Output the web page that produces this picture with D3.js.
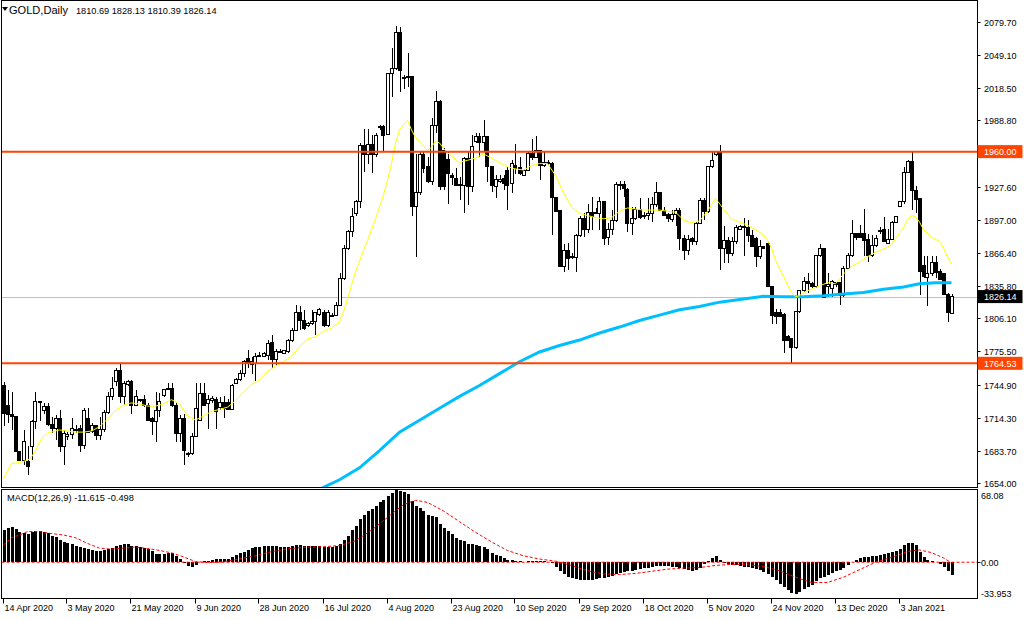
<!DOCTYPE html>
<html><head><meta charset="utf-8">
<script src="https://cdn.jsdelivr.net/npm/d3@7"></script>
<style>
body{margin:0;background:#fff;}
svg{display:block;font-family:"Liberation Sans",Arial,sans-serif;font-size:9px;}
</style></head><body><svg id="c" width="1024" height="620"></svg>
<script>
// ---- Daily OHLC, bar 0 = 14 Apr 2020 ... bar 237 = last bar ----
const open=[1744,1726,1717,1715,1683,1675,1674,1688,1711,1728,1721,1725,1708,1704,1714,1688,1697,1699,1703,1704,1689,1714,1702,1707,1698,1703,1719,1734,1748,1758,1734,1745,1748,1726,1730,1731,1726,1714,1711,1721,1735,1740,1741,1726,1700,1714,1681,1681,1697,1712,1737,1727,1730,1731,1724,1728,1728,1722,1746,1750,1755,1769,1763,1764,1771,1771,1772,1784,1768,1775,1774,1775,1786,1795,1811,1804,1799,1801,1803,1810,1811,1799,1809,1809,1818,1843,1871,1886,1903,1914,1966,1957,1967,1957,1983,1983,1976,2032,2037,2070,2028,2029,2029,1909,1922,1957,1946,1932,1984,2006,1961,1953,1938,1935,1930,1929,1954,1928,1969,1974,1968,1974,1946,1928,1932,1935,1943,1931,1947,1945,1938,1943,1958,1955,1961,1947,1949,1949,1918,1906,1854,1869,1863,1862,1883,1898,1888,1904,1904,1903,1914,1881,1888,1896,1930,1930,1925,1894,1898,1907,1901,1901,1903,1911,1922,1906,1902,1897,1902,1906,1880,1869,1880,1877,1894,1915,1905,1946,1957,1960,1871,1878,1866,1877,1888,1891,1890,1883,1880,1863,1872,1875,1835,1811,1811,1810,1789,1787,1779,1812,1832,1840,1838,1835,1864,1871,1835,1834,1839,1839,1827,1852,1864,1884,1884,1884,1879,1864,1873,1886,1888,1875,1879,1895,1909,1914,1941,1951,1924,1917,1855,1844,1847,1858,1849,1847,1828,1810.69];
const high=[1747,1740,1738,1716,1684,1703,1688,1712,1738,1729,1728,1728,1715,1717,1721,1703,1701,1714,1708,1708,1723,1723,1709,1708,1715,1721,1738,1752,1760,1765,1748,1749,1749,1740,1732,1735,1728,1715,1738,1737,1741,1746,1746,1728,1717,1718,1683,1700,1746,1746,1746,1735,1734,1733,1733,1734,1732,1745,1751,1758,1768,1777,1770,1774,1775,1775,1786,1791,1778,1778,1777,1787,1797,1818,1817,1814,1803,1814,1812,1816,1814,1814,1811,1821,1848,1874,1888,1908,1915,1968,1981,1981,1975,1977,1985,1985,2032,2056,2076,2075,2031,2051,2029,1958,1960,1961,1955,1991,2016,2008,1963,1960,1940,1945,1937,1955,1961,1975,1977,1977,1989,1974,1946,1938,1938,1938,1946,1952,1967,1955,1944,1961,1972,1974,1961,1961,1952,1950,1918,1906,1875,1876,1866,1884,1901,1903,1912,1918,1908,1918,1914,1894,1906,1932,1933,1933,1926,1909,1909,1917,1904,1917,1918,1932,1923,1909,1903,1906,1908,1908,1883,1883,1881,1895,1917,1917,1947,1961,1961,1966,1891,1881,1881,1892,1892,1899,1897,1888,1881,1878,1873,1877,1836,1815,1815,1811,1791,1788,1812,1832,1844,1848,1840,1864,1875,1871,1848,1841,1840,1840,1854,1866,1897,1884,1892,1907,1884,1883,1883,1890,1900,1889,1896,1901,1914,1946,1952,1960,1928,1917,1864,1864,1864,1864,1852,1848,1829,1828.13];
const low=[1707,1709,1703,1683,1674,1671,1661,1675,1704,1711,1718,1707,1700,1694,1683,1671,1694,1695,1700,1683,1685,1701,1700,1694,1694,1701,1718,1731,1744,1728,1726,1744,1718,1725,1729,1724,1711,1698,1692,1715,1733,1740,1724,1692,1692,1671,1678,1680,1697,1711,1725,1704,1728,1704,1721,1714,1721,1721,1745,1748,1752,1760,1755,1748,1770,1770,1768,1760,1762,1774,1773,1774,1784,1795,1795,1795,1798,1800,1791,1808,1798,1798,1808,1808,1817,1841,1869,1881,1901,1908,1941,1949,1940,1955,1980,1961,1975,2010,2035,2015,2018,2020,1901,1863,1920,1940,1931,1929,1977,1925,1925,1912,1929,1928,1915,1903,1911,1923,1968,1955,1960,1932,1923,1917,1931,1925,1906,1922,1939,1938,1938,1943,1952,1954,1934,1946,1948,1883,1905,1854,1849,1851,1861,1849,1881,1881,1885,1888,1902,1888,1874,1874,1883,1895,1925,1918,1886,1883,1897,1898,1898,1897,1895,1909,1905,1901,1895,1895,1891,1869,1860,1865,1874,1874,1894,1897,1903,1945,1956,1851,1857,1857,1864,1875,1888,1864,1877,1872,1853,1861,1870,1835,1801,1801,1808,1774,1785,1764,1778,1811,1830,1829,1834,1834,1863,1825,1826,1826,1835,1818,1826,1852,1863,1878,1881,1864,1858,1863,1872,1884,1877,1875,1878,1894,1909,1912,1940,1906,1903,1828,1843,1817,1845,1843,1841,1828,1803,1810.39];
const close=[1718,1717,1715,1683,1675,1692,1669,1711,1729,1729,1725,1708,1704,1714,1688,1700,1699,1704,1703.5,1689,1721,1701,1707,1698,1703,1719,1734,1741,1758,1734,1746,1748,1726,1734,1731,1726,1712,1711,1721,1729,1740,1741,1726,1700,1714,1684,1680,1697,1723,1737,1726,1731,1732,1720,1728,1723,1722,1744,1750,1755,1766,1764,1766,1771,1772,1774,1783,1768,1775,1775,1776,1786,1795,1811,1804,1797,1801,1803,1811,1814,1799,1811,1809,1818,1843,1871,1886,1900,1914,1966,1957,1967,1957,1975,1983,1975,2032,2037,2070,2035,2028,2028,1909,1922,1957,1944,1932,1984,2006,1928,1928,1940,1936,1929,1930,1954,1928,1965,1974,1968,1974,1946,1929,1934,1934,1931,1929,1949,1944,1940,1943,1958,1955,1961,1947,1950,1950,1918,1905,1854,1869,1861,1863,1883,1898,1888,1904,1900,1904,1914,1880,1888,1896,1930,1930,1926,1894,1898,1907,1899,1900,1903,1911,1922,1906,1901,1898,1902,1906,1880,1869,1879,1877,1894,1915,1905,1946,1952,1960,1871,1878,1866,1877,1890,1891,1890,1883,1872,1863,1872,1871,1835,1809,1808,1808,1786,1786,1779,1812,1832,1840,1838,1835,1864,1871,1825,1837,1840,1837,1827,1852,1864,1884,1881,1881,1878,1864,1873,1880,1887,1877,1879,1895,1900,1914,1941,1951,1924,1916,1849,1845,1847,1858,1848,1842,1828,1811,1826.14];

// Moving averages (bar index / value)
const maFastIdx=[0,2,4,6,7,8,9,10,11,12,14,16,18,20,22,24,26,28,30,32,34,36,38,40,42,44,46,48,50,52,54,56,58,60,62,64,66,68,70,72,74,76,78,80,82,84,85,86,87,88,89,90,91,92,93,94,95,96,97,98,99,100,101,102,103,104,105,106,107,108,109,110,111,112,113,114,116,118,120,122,124,126,128,130,132,134,136,138,140,142,144,146,148,150,152,154,156,158,160,162,164,166,168,170,172,174,176,178,180,182,184,186,188,190,191,192,193,194,195,196,197,198,199,200,202,204,206,208,210,212,214,216,218,220,222,224,225,226,227,228,229,230,232,234,235,236,237];
const maFastVal=[1658,1672,1673,1675,1678,1684,1692,1697,1700,1701,1703,1702,1701,1701,1702,1706,1713,1721,1726,1728,1727,1725,1725,1727,1731,1727,1716,1712,1716,1720,1722,1724,1730,1738,1745,1749,1757,1762,1766,1771,1780,1787,1789,1794,1797,1803,1812,1824,1837,1849,1859,1869,1878,1888,1898,1909,1920,1934,1949,1968,1980,1985,1989,1980,1973,1969,1965,1961,1964,1970,1968,1963,1959,1956,1953,1950,1952,1954,1958,1954,1950,1946,1944,1943,1947,1949,1949,1938,1922,1909,1903,1901,1899,1898,1899,1905,1908,1907,1906,1906,1906,1905,1904,1897,1894,1896,1905,1917,1907,1898,1895,1892,1888,1883,1878,1871,1860,1852,1845,1837,1830,1826,1827,1830,1833,1836,1839,1838,1847,1854,1858,1863,1867,1870,1874,1885,1890,1897,1901,1900,1895,1888,1881,1877,1871,1863,1856];
const maSlowIdx=[76,80,84,89,94,99,104,109,114,119,124,129,134,139,144,149,154,159,164,169,174,179,185,190,195,200,205,210,215,220,225,229,233,237];
const maSlowVal=[1640,1650,1657,1668,1684,1701,1712,1723,1734,1744,1755,1766,1775,1781,1786,1792.5,1798,1804,1809,1814,1817,1821,1824,1826.5,1826,1826,1827,1828.5,1830,1833,1835,1838,1839,1839];

// MACD(12,26,9) histogram (per bar) and signal line (sampled)
const macdMain=[30.2,31.8,32.7,31.2,28.7,27.1,26.5,28,29.3,29.3,28.7,27.1,24.6,23.3,20.8,19.2,17.6,17,15.1,14.5,12.9,12.3,11.3,10.4,10.4,11.3,12.3,12.9,15.4,16.1,16.7,16.7,15.1,14.8,14.5,12.9,12,10.4,7.6,7.6,7.6,9.1,8.2,5.7,2.8,-0.3,-3.8,-4.4,-2.8,0,0.9,0.9,1.9,2.8,2.8,2.8,2.8,5,6.3,8.2,9.8,11.3,12.9,13.9,14.5,15,15.5,15,15,14.5,14.5,14.5,15,16,16,15.5,15,15,15,15,14.5,14.5,14.5,15,17,21,25,30,34,40,44,48,50,53,56,58,62,65,68,67,66,64,57,53,51,48,44,43,42,36,32,29,26,23,21,20,17,17,16,15,14,12,9,7,5.5,4,2.5,2,1.5,1,0.5,1,1.5,1.5,1,1,0.5,-1,-4,-8,-11,-14,-15,-16,-17,-17,-17,-16.5,-16,-15,-15,-14,-13,-11,-10,-9,-8.5,-8,-7,-6,-5.5,-5,-4.5,-3.5,-3.5,-3.5,-3.5,-4,-4,-5,-6.5,-7.5,-8,-7,-5,-2,1.5,4,5.5,2,-1,-2,-2.5,-3,-3.5,-4,-4.5,-5.5,-6.5,-7.5,-9,-11,-14,-17,-20,-23,-26,-29,-30,-28,-25,-23,-21,-18,-15,-14,-12,-10,-8,-7,-5,-3,0,2,3.5,4.5,5,5.5,6,7,7.5,8.5,9.5,10.5,12.5,16,18,18,16,10,5,2,1,0,-1.5,-4.5,-8.5,-11.615];
const signalIdx=[0,2,4,6,9,12,15,18,21,24,27,30,33,36,39,42,45,48,51,54,57,60,63,66,70,75,80,84,88,92,96,100,103,106,110,114,118,122,126,130,134,138,142,146,150,154,158,162,166,170,174,178,182,186,190,194,198,202,206,210,214,218,222,226,229,232,235,237];
const signalVal=[16,23,25.5,28.7,28.7,26.8,25.5,23,17.6,13.2,12.3,13.2,14.2,12.9,11,8.8,5,0.6,-0.3,0,1.6,3.8,6,9,12,14,14.5,15.5,20,30,42,54,58,56,48,38,28,19,11,6,3,1,-3,-8,-11,-11.5,-10.5,-8.5,-6.5,-5.5,-5,-3,-2,-2.5,-4,-8,-14,-19,-19,-14,-7,0,4.5,10,11.5,9,4,-0.498];

const priceTicks=[2079.70,2049.10,2018.50,1988.80,1927.60,1897.00,1866.40,1835.80,1806.10,1775.50,1744.90,1714.30,1683.70,1654.00];
const dateLabels=["14 Apr 2020","3 May 2020","21 May 2020","9 Jun 2020","28 Jun 2020","16 Jul 2020","4 Aug 2020","23 Aug 2020","10 Sep 2020","29 Sep 2020","18 Oct 2020","5 Nov 2020","24 Nov 2020","13 Dec 2020","3 Jan 2021"];
const dateIdx=[0,16,32,48,64,80,96,112,128,144,160,176,192,208,224];
const levels=[{v:1960.00,label:"1960.00"},{v:1764.53,label:"1764.53"}];
const lastPrice=1826.14;
const macdTicks=[{v:68.08,t:"68.08"},{v:0,t:"0.00"},{v:-33.953,t:"-33.953"}];

const svg=d3.select('#c');
const n=close.length;
const x=d3.scaleLinear().domain([0,n-1]).range([3.5,951.5]);
const y=d3.scaleLinear().domain([1654,2079.7]).range([483,22]);
const ym=d3.scaleLinear().domain([-33.953,68.08]).range([598.5,489.5]);
const L=1.5,R=977.5,T=0.5,B=487.5,MT=489.5,MB=598.5;
const ORANGE="#FF4500";

svg.append('rect').attr('width',1024).attr('height',620).attr('fill','#fff');
const defs=svg.append('defs');
defs.append('clipPath').attr('id','cm').append('rect').attr('x',L).attr('y',T).attr('width',R-L).attr('height',B-T);
defs.append('clipPath').attr('id','cd').append('rect').attr('x',L).attr('y',MT).attr('width',R-L).attr('height',MB-MT);

const gm=svg.append('g').attr('clip-path','url(#cm)');
gm.append('line').attr('x1',L).attr('x2',R).attr('y1',Math.round(y(lastPrice))+0.5).attr('y2',Math.round(y(lastPrice))+0.5).attr('stroke','#C0C0C0');

// candles
const idx=d3.range(n);
const cg=gm.append('g').attr('shape-rendering','crispEdges');
cg.selectAll('line.w').data(idx).join('line')
  .attr('x1',i=>Math.round(x(i))).attr('x2',i=>Math.round(x(i)))
  .attr('y1',i=>y(high[i])).attr('y2',i=>y(low[i])).attr('stroke','#000');
cg.selectAll('rect.b').data(idx).join('rect')
  .attr('x',i=>Math.round(x(i))-1.5).attr('width',3)
  .attr('y',i=>y(Math.max(open[i],close[i])))
  .attr('height',i=>Math.max(1,Math.abs(y(open[i])-y(close[i]))))
  .attr('fill',i=>close[i]>=open[i]?'#fff':'#000').attr('stroke','#000').attr('stroke-width',1);

// MAs
const lineG=d3.line().x(d=>x(d[0])).y(d=>y(d[1]));
gm.append('path').attr('d',lineG(maSlowIdx.map((k,j)=>[k,maSlowVal[j]]))).attr('fill','none').attr('stroke','#00BFFF').attr('stroke-width',3);
gm.append('path').attr('d',lineG(maFastIdx.map((k,j)=>[k,maFastVal[j]]))).attr('fill','none').attr('stroke','#FFFF00').attr('stroke-width',1);

// horizontal levels
levels.forEach(l=>{
  gm.append('line').attr('x1',L).attr('x2',R).attr('y1',y(l.v)).attr('y2',y(l.v)).attr('stroke',ORANGE).attr('stroke-width',2);
});

// frames
svg.append('rect').attr('x',L).attr('y',T).attr('width',R-L).attr('height',B-T).attr('fill','none').attr('stroke','#000').attr('shape-rendering','crispEdges');
svg.append('rect').attr('x',L).attr('y',MT).attr('width',R-L).attr('height',MB-MT).attr('fill','none').attr('stroke','#000').attr('shape-rendering','crispEdges');

// price axis
const ax=svg.append('g');
priceTicks.forEach(p=>{
  const yy=Math.round(y(p))+0.5;
  ax.append('line').attr('x1',R).attr('x2',R+3).attr('y1',yy).attr('y2',yy).attr('stroke','#000');
  ax.append('text').attr('x',984).attr('y',yy+3.5).text(p.toFixed(2));
});
function tag(v,label,bg){
  const yy=y(v);
  ax.append('rect').attr('x',R).attr('y',yy-6.5).attr('width',45).attr('height',13).attr('fill',bg);
  ax.append('text').attr('x',984).attr('y',yy+3.5).attr('fill','#fff').text(label);
}
levels.forEach(l=>tag(l.v,l.label,ORANGE));
tag(lastPrice,lastPrice.toFixed(2),'#000');

// header
svg.append('path').attr('d','M2,7 L8,7 L5,11 Z').attr('fill','#000');
svg.append('text').attr('x',9).attr('y',14).attr('font-size','11px').attr('textLength',59).attr('lengthAdjust','spacingAndGlyphs').text('GOLD,Daily');
svg.append('text').attr('x',76).attr('y',14).attr('font-size','9.2px').text(`${open[n-1]} ${high[n-1]} ${low[n-1]} ${close[n-1]}`);

// MACD panel
const gd=svg.append('g').attr('clip-path','url(#cd)');
gd.append('g').attr('shape-rendering','crispEdges').selectAll('rect').data(idx).join('rect')
  .attr('x',i=>Math.round(x(i))-1.5).attr('width',3)
  .attr('y',i=>Math.min(ym(0),ym(macdMain[i])))
  .attr('height',i=>Math.abs(ym(macdMain[i])-ym(0)))
  .attr('fill','#000');
gd.append('line').attr('x1',L).attr('x2',R).attr('y1',ym(0)).attr('y2',ym(0)).attr('stroke','#FF0000').attr('stroke-dasharray','3,2');
const lineM=d3.line().x(d=>x(d[0])).y(d=>ym(d[1]));
gd.append('path').attr('d',lineM(signalIdx.map((k,j)=>[k,signalVal[j]]))).attr('fill','none').attr('stroke','#FF0000').attr('stroke-dasharray','3,2');
svg.append('text').attr('x',7).attr('y',500.5).attr('font-size','9.3px').text(`MACD(12,26,9) ${macdMain[n-1]} ${signalVal[signalVal.length-1]}`);
macdTicks.forEach(t=>{
  let yy=ym(t.v);
  yy=Math.max(MT+6,Math.min(MB-5.5,yy));
  svg.append('text').attr('x',981).attr('y',yy+3.5).text(t.t);
});
svg.append('line').attr('x1',R).attr('x2',R+3).attr('y1',Math.round(ym(0))+0.5).attr('y2',Math.round(ym(0))+0.5).attr('stroke','#000');

// date axis
const dx=svg.append('g');
dateIdx.forEach((k,j)=>{
  const xx=Math.round(x(k))-0.5;
  dx.append('line').attr('x1',xx).attr('x2',xx).attr('y1',MB).attr('y2',MB+5).attr('stroke','#000');
  dx.append('text').attr('x',xx+1).attr('y',611).text(dateLabels[j]);
});
</script></body></html>
